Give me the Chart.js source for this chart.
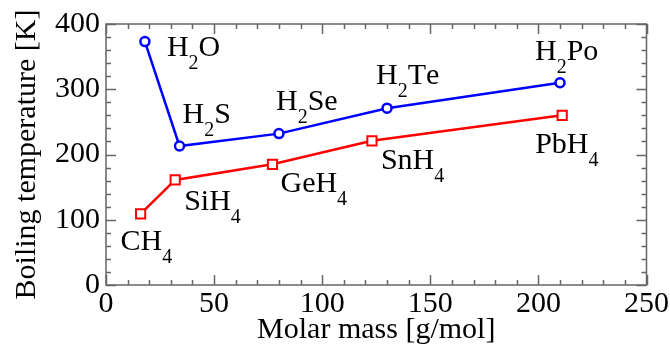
<!DOCTYPE html>
<html>
<head>
<meta charset="utf-8">
<script src="https://cdn.jsdelivr.net/npm/chart.js@4.4.0/dist/chart.umd.min.js"></script>
<style>
  html, body { margin: 0; padding: 0; background: #fff; }
  canvas { display: block; }
</style>
</head>
<body>
<canvas id="bp" width="670" height="348"></canvas>
<script>
// group 16 hydrides (blue) and group 14 hydrides (red)
const hydrideNames = ['H2O', 'H2S', 'H2Se', 'H2Te', 'H2Po'];
const hydrideMass = [18, 34, 80, 130, 210];
const hydrideBoil = [373, 213, 232, 271, 310];

const tetraNames = ['CH4', 'SiH4', 'GeH4', 'SnH4', 'PbH4'];
const tetraMass = [16, 32, 77, 123, 211];
const tetraBoil = [109, 161, 185, 221, 260];

const xTicks = [0, 50, 100, 150, 200, 250];
const yTicks = [0, 100, 200, 300, 400];

const SERIF = "'Liberation Serif', 'Times New Roman', serif";
const FRAME = '#666';

// where each formula sits relative to its marker (left edge, baseline)
const hydrideOffsets = [[22, 14], [3, -23], [-3, -24], [-11, -24], [-25, -23]];
const tetraOffsets = [[-20, 36], [9, 30], [8, 28], [9, 28], [-27, 38]];

function points(xs, ys) {
  return xs.map((x, i) => ({ x, y: ys[i] }));
}

// formula with digits drawn as subscripts
function drawFormula(ctx, text, x, y) {
  let cx = x;
  for (const ch of text) {
    const sub = /[0-9]/.test(ch);
    ctx.font = (sub ? '20px ' : '30px ') + SERIF;
    ctx.fillText(ch, cx, sub ? y + 13 : y);
    cx += ctx.measureText(ch).width;
  }
}

const formulaLabels = {
  id: 'formulaLabels',
  afterDatasetsDraw(chart) {
    const ctx = chart.ctx;
    ctx.save();
    ctx.fillStyle = '#000';
    ctx.textBaseline = 'alphabetic';
    ctx.textAlign = 'left';
    const groups = [[0, hydrideNames, hydrideOffsets], [1, tetraNames, tetraOffsets]];
    groups.forEach(([di, names, offs]) => {
      chart.getDatasetMeta(di).data.forEach((pt, i) => {
        drawFormula(ctx, names[i], pt.x + offs[i][0], pt.y + offs[i][1]);
      });
    });
    ctx.restore();
  }
};

// box frame with inward major/minor ticks on all four sides
const frameTicks = {
  id: 'frameTicks',
  beforeDatasetsDraw(chart) {
    const { ctx, chartArea: a, scales: { x, y } } = chart;
    ctx.save();
    ctx.strokeStyle = FRAME;
    ctx.lineWidth = 1.5;
    ctx.strokeRect(a.left, a.top, a.right - a.left, a.bottom - a.top);
    ctx.beginPath();
    for (let v = x.min; v <= x.max; v += 10) {
      const px = Math.round(x.getPixelForValue(v)) + 0.5;
      const len = v % 50 === 0 ? 10 : 5;
      ctx.moveTo(px, a.bottom); ctx.lineTo(px, a.bottom - len);
      ctx.moveTo(px, a.top); ctx.lineTo(px, a.top + len);
    }
    for (let v = y.min; v <= y.max; v += 20) {
      const py = Math.round(y.getPixelForValue(v)) + 0.5;
      const len = v % 100 === 0 ? 10 : 5;
      ctx.moveTo(a.left, py); ctx.lineTo(a.left + len, py);
      ctx.moveTo(a.right, py); ctx.lineTo(a.right - len, py);
    }
    ctx.stroke();
    ctx.restore();
  }
};

new Chart(document.getElementById('bp'), {
  type: 'scatter',
  data: {
    datasets: [
      {
        data: points(hydrideMass, hydrideBoil),
        showLine: true,
        borderColor: '#0000ff',
        borderWidth: 2.5,
        pointStyle: 'circle',
        pointRadius: 4.5,
        pointBorderWidth: 2.5,
        pointBackgroundColor: '#fff',
        pointBorderColor: '#0000ff'
      },
      {
        data: points(tetraMass, tetraBoil),
        showLine: true,
        borderColor: '#ff0000',
        borderWidth: 2.5,
        pointStyle: 'rect',
        pointRadius: 6.5,
        pointBorderWidth: 2,
        pointBackgroundColor: '#fff',
        pointBorderColor: '#ff0000'
      }
    ]
  },
  options: {
    responsive: false,
    animation: false,
    events: [],
    layout: { padding: { top: 15, right: 23, left: 0, bottom: 0 } },
    plugins: { legend: { display: false }, tooltip: { enabled: false } },
    scales: {
      x: {
        type: 'linear',
        min: 0,
        max: 250,
        afterBuildTicks: (s) => { s.ticks = xTicks.map((v) => ({ value: v })); },
        afterFit: (s) => { s.height = 63; },
        grid: { display: false, drawTicks: false },
        border: { display: false },
        ticks: { color: '#000', padding: 1, font: { family: SERIF, size: 30 } },
        title: {
          display: true,
          text: 'Molar mass [g/mol]',
          color: '#000',
          font: { family: SERIF, size: 30 },
          padding: { top: 0, bottom: 0 }
        }
      },
      y: {
        type: 'linear',
        min: 0,
        max: 400,
        afterBuildTicks: (s) => { s.ticks = yTicks.map((v) => ({ value: v })); },
        afterFit: (s) => { s.width = 106; },
        grid: { display: false, drawTicks: false },
        border: { display: false },
        ticks: { color: '#000', padding: 6, font: { family: SERIF, size: 30 } },
        title: {
          display: true,
          text: 'Boiling temperature [K]',
          color: '#000',
          font: { family: SERIF, size: 30 },
          padding: { top: 9, bottom: 0 }
        }
      }
    }
  },
  plugins: [frameTicks, formulaLabels]
});
</script>
</body>
</html>
